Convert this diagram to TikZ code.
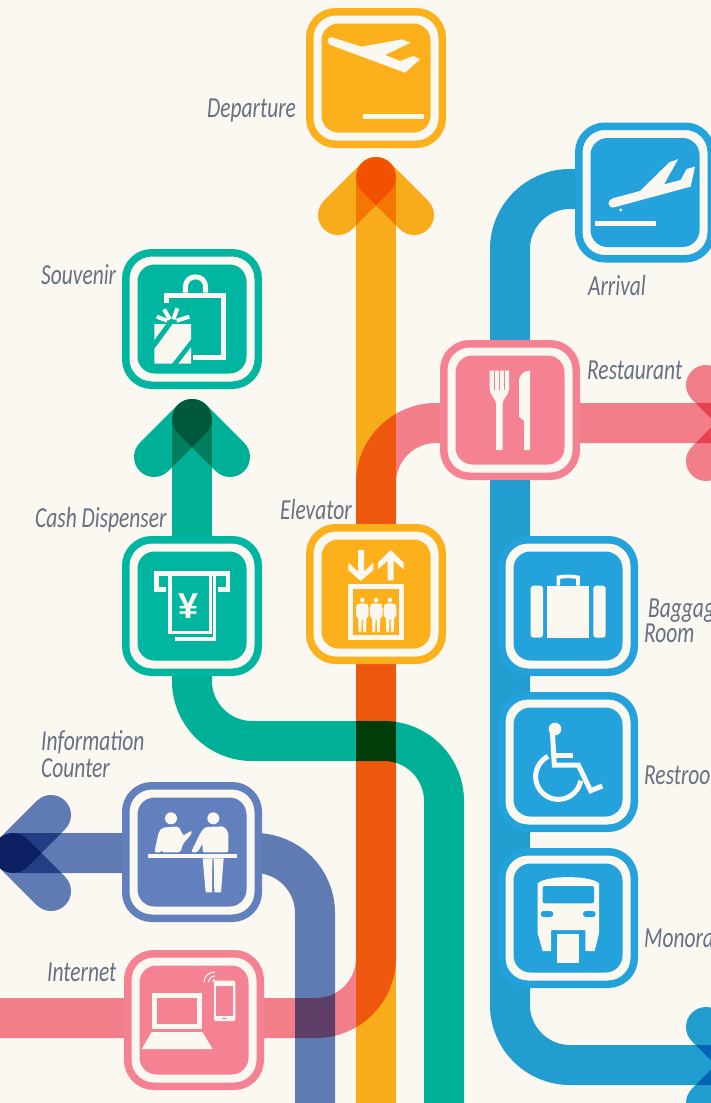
\documentclass[tikz,border=0pt]{standalone}
\usepackage{fontspec}
\setmainfont{Carlito}
\newfontfamily\lblfont[FakeStretch=0.74]{Carlito}
\newfontfamily\yenfont{Liberation Sans}
\definecolor{paperc}{HTML}{FBF8F1}
\definecolor{labelc}{HTML}{667083}
\definecolor{yellowb}{HTML}{FCB11C}
\definecolor{tealb}{HTML}{00B6A0}
\definecolor{pinkb}{HTML}{F58292}
\definecolor{blueb}{HTML}{23A2DC}
\definecolor{purpb}{HTML}{627FBE}
\pgfdeclarelayer{paperlayer}
\pgfdeclarelayer{raillayer}
\pgfsetlayers{paperlayer,raillayer,main}
\tikzset{
  rail/.style={line width=40pt,line cap=round,line join=round,blend mode=multiply,draw=#1},
  railbend/.style={rounded corners=60pt},
  signring/.style={draw=#1,line width=7.5pt,fill=paperc,minimum size=132.5pt,rounded corners=26pt,inner sep=0pt,outer sep=0pt},
  signcore/.style={fill=#1,minimum size=109pt,rounded corners=17pt,inner sep=0pt,outer sep=0pt},
  zoomed/.style 2 args={shift={(#1,#2)},x=0.33333pt,y=-0.33333pt},
  glyph/.style={fill=paperc},
  gstroke/.style={draw=paperc,line width=#1,line cap=butt,line join=miter},
  lbl/.style={font=\lblfont\itshape\fontsize{29}{29}\selectfont,text=labelc,anchor=base west,inner sep=0pt}
}
\newcommand{\putsign}[4]{%
  \node[signring=#4] (#1) at (#2,#3) {};
  \node[signcore=#4] (#1core) at (#2,#3) {};
}
\begin{document}
\begin{tikzpicture}[x=1pt,y=-1pt]
\useasboundingbox (0,0) rectangle (711,1103);
\begin{pgfonlayer}{paperlayer}
\fill[paperc] (0,0) rectangle (711,1103);
\end{pgfonlayer}

% signs
\putsign{dep}{376}{78}{yellowb}
\putsign{souv}{192}{319}{tealb}
\putsign{cash}{192}{606}{tealb}
\putsign{elev}{376}{594}{yellowb}
\putsign{info}{192}{852}{purpb}
\putsign{inet}{194}{1020}{pinkb}
\putsign{arri}{645}{192.5}{blueb}
\putsign{rest}{510}{410}{pinkb}
\putsign{bagg}{568}{606}{blueb}
\putsign{room}{568}{762}{blueb}
\putsign{mono}{568}{918}{blueb}

% free ends
\coordinate (ytip) at (376,177);
\coordinate (ya) at (338,215);
\coordinate (yb) at (414,215);
\coordinate (yend) at (376,1125);
\coordinate (stip) at (192,419);
\coordinate (sa) at (154,457);
\coordinate (sb) at (230,457);
\coordinate (t1) at (192,741);
\coordinate (t2) at (444,741);
\coordinate (tend) at (444,1125);
\coordinate (ptip) at (744,423);
\coordinate (pa) at (706,385);
\coordinate (pb) at (706,461);
\coordinate (p1) at (376,423);
\coordinate (p2) at (376,1018);
\coordinate (pend) at (-30,1018);
\coordinate (btip) at (744,1065);
\coordinate (ba) at (706,1027);
\coordinate (bb) at (706,1103);
\coordinate (b1) at (510,189);
\coordinate (b2) at (510,1065);
\coordinate (itip) at (13,853);
\coordinate (ia) at (51,815);
\coordinate (ib) at (51,891);
\coordinate (i1) at (315,853);
\coordinate (iend) at (315,1125);

\begin{pgfonlayer}{raillayer}
\draw[rail=yellowb] (yend) -- (ytip);
\draw[rail=yellowb] (ya) -- (ytip);
\draw[rail=yellowb] (yb) -- (ytip);
\draw[rail=tealb] (cash.center) -- (stip);
\draw[rail=tealb] (sa) -- (stip);
\draw[rail=tealb] (sb) -- (stip);
\draw[rail=tealb,railbend] (cash.center) -- (t1) -- (t2) -- (tend);
\draw[rail=pinkb,railbend] (ptip) -- (p1) -- (p2) -- (pend);
\draw[rail=pinkb] (pa) -- (ptip);
\draw[rail=pinkb] (pb) -- (ptip);
\draw[rail=blueb,railbend] (arri.center |- b1) -- (b1) -- (b2) -- (btip);
\draw[rail=blueb] (ba) -- (btip);
\draw[rail=blueb] (bb) -- (btip);
\draw[rail=purpb,railbend] (itip) -- (i1) -- (iend);
\draw[rail=purpb] (ia) -- (itip);
\draw[rail=purpb] (ib) -- (itip);
\end{pgfonlayer}

% departure glyph
\begin{scope}[zoomed={290}{0}]
\fill[glyph] (125,112) -- (215,140) -- (335,118) -- (362,128) -- (285,165) -- (330,183) -- (370,168) -- (390,178) -- (345,218) -- (124,136) .. controls (108,130) and (110,108) .. (125,112) -- cycle;
\fill[glyph] (219,341) rectangle (402,357);
\end{scope}

% arrival glyph
\begin{scope}[zoomed={430}{115}]
\fill[glyph] (548,250) -- (630,228) -- (718,142) -- (745,132) -- (702,208) -- (752,195) -- (770,162) -- (795,155) -- (782,215) -- (552,277) .. controls (532,280) and (530,255) .. (548,250) -- cycle;
\fill[glyph] (572,285) circle[radius=5];
\fill[glyph] (494,317) rectangle (678,333);
\end{scope}

% souvenir glyph
\begin{scope}[zoomed={110}{240}]
\draw[gstroke=5pt] (170,190) -- (170,166) -- (341,166) -- (341,352) -- (249,352);
\draw[gstroke=5pt] (226,158) -- (226,142) .. controls (226,100) and (287,100) .. (287,142) -- (287,158);
\fill[glyph] (133,252) -- (168,252) -- (133,300) -- cycle;
\fill[glyph] (188,252) -- (243,252) -- (243,298) -- (186,371) -- (133,371) -- (133,327) -- cycle;
\fill[glyph] (243,322) -- (243,371) -- (205,371) -- cycle;
\draw[gstroke=4pt] (140,230) -- (172,242);
\draw[gstroke=4pt] (162,208) -- (180,238);
\draw[gstroke=4pt] (202,205) -- (190,238);
\draw[gstroke=4pt] (238,230) -- (200,242);
\end{scope}

% cash glyph
\begin{scope}[zoomed={110}{530}]
\draw[gstroke=4.5pt] (168,178) -- (139,178) -- (139,130) -- (354,130) -- (354,178) -- (325,178);
\draw[gstroke=3.2pt] (180,130) -- (180,308) -- (301,308) -- (301,130);
\draw[gstroke=3.2pt] (195,327) -- (313,327) -- (313,130);
\node[font=\yenfont\bfseries\fontsize{36}{36}\selectfont,text=paperc,inner sep=0pt] (yen) at (237,227) {¥};
\end{scope}

% elevator glyph
\begin{scope}[zoomed={110}{530}]
\fill[glyph] (744,60) -- (762,60) -- (762,125) -- (790,98) -- (790,120) -- (752,153) -- (715,120) -- (715,98) -- (744,125) -- cycle;
\fill[glyph] (842,60) -- (881,98) -- (881,118) -- (851,92) -- (851,151) -- (833,151) -- (833,92) -- (804,118) -- (804,98) -- cycle;
\draw[gstroke=5.3pt] (721,169) rectangle (874,322);
\foreach \px in {0,41.5,83} {
  \fill[glyph] (757+\px,210) circle[radius=7];
  \fill[glyph,rounded corners=3pt] (738+\px,264) -- (738+\px,226) -- (746+\px,220) -- (768+\px,220) -- (776+\px,226) -- (776+\px,264) -- cycle;
  \fill[glyph] (744+\px,255) -- (770+\px,255) -- (768+\px,306) -- (760+\px,306) -- (758.5+\px,268) -- (755.5+\px,268) -- (754+\px,306) -- (746+\px,306) -- cycle;
}
\end{scope}

% info glyph
\begin{scope}[zoomed={110}{775}]
\fill[glyph] (113,237) rectangle (381,249);
\fill[glyph] (183,130) circle[radius=18];
\fill[glyph] (310,130) circle[radius=18];
\fill[glyph,rounded corners=2pt] (133,232) -- (146,172) -- (156,158) -- (206,154) -- (220,182) -- (244,167) -- (247,174) -- (218,208) -- (212,232) -- (155,232) -- (165,195) -- (155,232) -- cycle;
\fill[glyph,rounded corners=2pt] (243,232) -- (272,172) -- (285,156) -- (342,154) -- (355,172) -- (355,232) -- (278,232) -- (278,205) -- (263,232) -- cycle;
\fill[glyph] (278,250) -- (341,250) -- (333,352) -- (313,352) -- (311,252) -- (307,252) -- (306,352) -- (287,352) -- cycle;
\end{scope}

% internet glyph
\begin{scope}[zoomed={110}{775}]
\draw[gstroke=5pt] (134.5,662.5) rectangle (267.5,755.5);
\fill[glyph] (125,771) -- (277,771) -- (308,822) -- (95,822) -- cycle;
\fill[glyph,rounded corners=2pt] (312,617) rectangle (376,738);
\fill[pinkb] (318,632) rectangle (370,724);
\fill[pinkb] (335,728) rectangle (352,733);
\draw[paperc,line width=1.1pt] (308,622) .. controls (308,618) and (311,614) .. (315,614);
\draw[paperc,line width=1.1pt] (295,622) .. controls (295,612) and (305,603) .. (315,603);
\draw[paperc,line width=1.1pt] (282,622) .. controls (282,604) and (297,591) .. (315,591);
\end{scope}

% restaurant glyph
\begin{scope}[zoomed={430}{115}]
\fill[glyph] (179,767) -- (179,822) .. controls (179,842) and (198,850) .. (198,865) -- (198,1005) -- (218,1005) -- (218,865) .. controls (218,850) and (237,842) .. (237,822) -- (237,767) -- cycle;
\draw[pinkb,line width=1.1pt] (193,767) -- (193,825);
\draw[pinkb,line width=1.1pt] (208,767) -- (208,825);
\draw[pinkb,line width=1.1pt] (223,767) -- (223,825);
\fill[glyph] (300,767) -- (300,1005) -- (282,1005) -- (282,917) -- (267,905) -- (267,800) .. controls (267,778) and (282,767) .. (300,767) -- cycle;
\end{scope}

% baggage glyph
\begin{scope}[zoomed={490}{530}]
\fill[glyph] (171,167) rectangle (298,323);
\fill[glyph,rounded corners=3pt] (122,167) rectangle (159,323);
\fill[glyph,rounded corners=3pt] (310,167) rectangle (347,323);
\draw[gstroke=3.6pt] (205,167) -- (205,142) .. controls (225,138) and (243,138) .. (264,142) -- (264,167);
\end{scope}

% restroom glyph
\begin{scope}[zoomed={490}{530}]
\fill[glyph] (195,597) circle[radius=19];
\draw[gstroke=5pt] (187,605) -- (193,705) -- (265,705) -- (302,782) -- (337,768);
\draw[gstroke=5pt] (195,675) -- (250,675);
\draw[gstroke=5pt] plot[domain=10:243,samples=40,smooth] ({205+68*cos(\x)},{740+68*sin(\x)});
\end{scope}

% monorail glyph
\begin{scope}[zoomed={490}{840}]
\fill[glyph,even odd rule] (143,130) .. controls (170,105) and (300,105) .. (327,130) -- (327,280) -- (314,333) -- (286,333) -- (286,270) -- (183,270) -- (183,333) -- (158,333) -- (143,280) -- cycle;
\fill[blueb,rounded corners=2pt] (158,138) rectangle (312,190);
\fill[blueb,rounded corners=3pt] (152,213) rectangle (190,231);
\fill[blueb,rounded corners=3pt] (279,213) rectangle (317,231);
\fill[glyph] (201,282) rectangle (266,370);
\end{scope}

% labels
\node[lbl] (ldep) at (207,117) {Departure};
\node[lbl] (lsouv) at (41,284) {Souvenir};
\node[lbl] (lcash) at (35,527) {Cash Dispenser};
\node[lbl] (lelev) at (280,519) {Elevator};
\node[lbl] (linfo) at (41,750) {Information};
\node[lbl] (lcoun) at (41,777) {Counter};
\node[lbl] (linet) at (47,981) {Internet};
\node[lbl] (larri) at (588,295) {Arrival};
\node[lbl] (lrest) at (587,379) {Restaurant};
\node[lbl] (lbagg) at (648,617) {Baggage};
\node[lbl] (lroom) at (644,642) {Room};
\node[lbl] (lrr) at (644,784) {Restroom};
\node[lbl] (lmono) at (644,947) {Monorail};
\end{tikzpicture}
\end{document}
